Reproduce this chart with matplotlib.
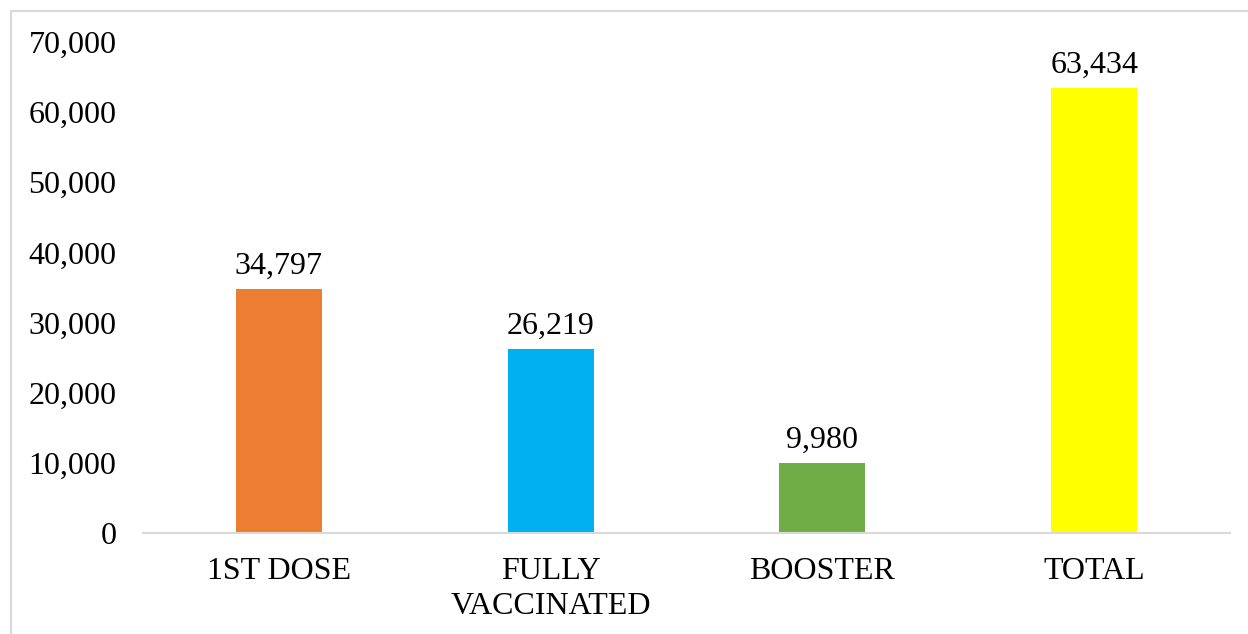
import matplotlib.pyplot as plt
from matplotlib.patches import Rectangle
from matplotlib.ticker import FuncFormatter

categories = ["1ST DOSE", "FULLY\nVACCINATED", "BOOSTER", "TOTAL"]
values = [34797, 26219, 9980, 63434]
colors = ["#ED7D31", "#00B0F0", "#70AD47", "#FFFF00"]
yticks = [0, 10000, 20000, 30000, 40000, 50000, 60000, 70000]


def main():
    plt.rcParams['font.family'] = ['Liberation Serif', 'DejaVu Serif']
    fig = plt.figure(figsize=(12.48, 6.34), dpi=100)

    # light grey chart frame, runs off the right and bottom edges
    fig.patches.append(Rectangle((11 / 1248, -0.05), 1.1, 0.05 + (1 - 11 / 634),
                                 transform=fig.transFigure, fill=False,
                                 edgecolor="#d9d9d9", linewidth=1.5))

    ax = fig.add_axes([143 / 1248, 1 - 533 / 634, (1230 - 143) / 1248, (533 - 42) / 634])
    x = range(len(categories))
    bars = ax.bar(x, values, width=0.317, color=colors, zorder=2)

    for b, v in zip(bars, values):
        ax.annotate(f"{v:,}", (b.get_x() + b.get_width() / 2, v),
                    xytext=(0, 6), textcoords="offset points",
                    ha="center", va="bottom", fontsize=23)

    ax.set_xlim(-0.5, len(categories) - 0.5)
    ax.set_ylim(0, 70000)
    ax.set_yticks(yticks)
    ax.yaxis.set_major_formatter(FuncFormatter(lambda v, p: f"{int(v):,}"))
    ax.set_xticks(list(x))
    ax.set_xticklabels(categories, linespacing=1.3)
    ax.tick_params(axis="both", length=0, labelsize=23)
    ax.tick_params(axis="y", pad=19)
    ax.tick_params(axis="x", pad=17)

    for s in ["top", "right", "left"]:
        ax.spines[s].set_visible(False)
    ax.spines["bottom"].set_color("#d9d9d9")
    ax.spines["bottom"].set_linewidth(1.5)

    fig.savefig("out.png", dpi=100)


if __name__ == "__main__":
    main()
